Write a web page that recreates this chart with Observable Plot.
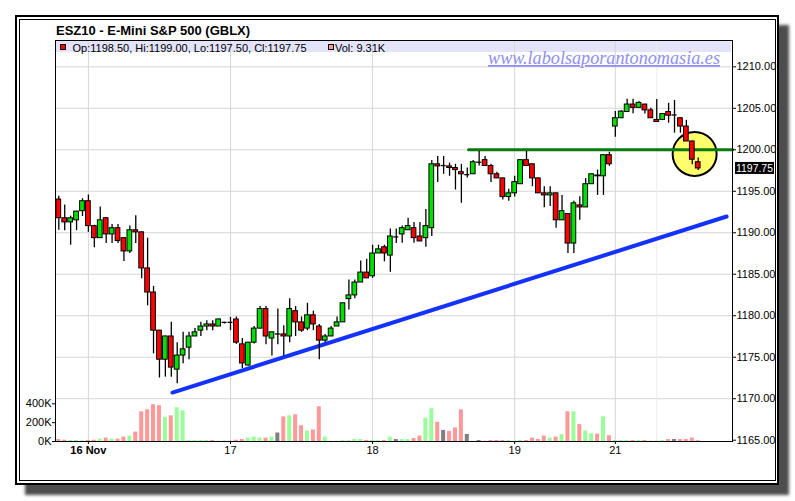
<!DOCTYPE html>
<html><head><meta charset="utf-8">
<script src="https://cdn.jsdelivr.net/npm/d3@7"></script>
<script src="https://cdn.jsdelivr.net/npm/@observablehq/plot@0.6"></script>
<style>
body{margin:0;background:#fff;}
#wrap{position:relative;width:795px;height:501px;overflow:hidden;font-family:"Liberation Sans",Arial,sans-serif;}
#outer{position:absolute;left:15px;top:15px;width:760px;height:466px;border:2px solid #000;box-shadow:10px 10px 3px #4d4d4d;background:#fff;}
#inner{position:absolute;left:19px;top:19px;width:755px;height:460px;border:1px solid #000;}
#band{position:absolute;left:56px;top:41px;width:675px;height:11px;background:#e3e3fa;}
#wrap svg{position:absolute;left:0;top:0;}
</style></head>
<body><div id="wrap"><div id="outer"></div><div id="inner"></div><div id="band"></div></div>
<script>
// ---- data (hourly bars, index 0 = first bar) ----
const open  = [1194.0,1191.75,1191.25,1191.5,1192.6,1193.8,1190.8,1189.35,1191.75,1189.8,1190.55,1189.35,1187.75,1190.3,1190.05,1185.7,1182.8,1178.2,1174.7,1177.5,1173.5,1175.2,1176.15,1177.5,1178.2,1178.7,1178.95,1178.7,1179.2,1179.2,
1179.55,1176.55,1174.0,1176.75,1178.45,1180.8,1177.25,1177.8,1177.75,1177.5,1180.55,1179.2,1178.45,1180.05,1178.7,1177.0,1177.5,1178.7,1179.2,1182.0,1182.45,1184.0,1185.2,1184.75,1187.5,1188.25,1187.25,1189.5,1189.8,1190.3,
1190.55,1189.55,1189.35,1190.55,1198.25,1198.1,1198.0,1197.8,1197.3,1197.0,1197.05,1198.5,1198.75,1198.05,1197.05,1196.55,1194.3,1194.75,1195.85,1198.75,1198.25,1196.55,1194.75,1194.5,1194.75,1191.5,1192.25,1188.7,1193.3,1193.05,
1195.85,1196.9,1196.8,1199.35,1202.8,1203.8,1204.55,1205.45,1205.05,1205.45,1204.75,1203.6,1203.6,1204.55,1204.2,1203.8,1202.8,1201.0,1198.5];
const high  = [1194.4,1193.35,1192.0,1192.6,1194.1,1194.55,1190.9,1193.1,1191.8,1191.0,1191.0,1189.4,1190.8,1192.05,1190.1,1189.35,1183.55,1178.25,1177.55,1179.2,1176.75,1178.0,1178.0,1178.45,1179.2,1179.4,1179.4,1179.6,1179.2,1179.8,
1179.85,1177.25,1176.8,1178.7,1181.1,1181.1,1178.0,1180.8,1178.8,1182.05,1181.1,1179.85,1181.5,1180.55,1178.95,1177.75,1178.7,1179.85,1181.5,1184.3,1184.3,1186.6,1186.8,1188.5,1188.5,1188.5,1190.45,1190.45,1190.8,1191.75,
1191.25,1191.25,1192.8,1198.7,1199.2,1199.2,1198.4,1198.25,1198.25,1197.8,1198.7,1199.8,1199.2,1198.25,1197.3,1196.6,1195.25,1196.8,1198.75,1199.8,1198.3,1196.6,1195.55,1195.55,1194.8,1194.5,1192.3,1193.8,1194.35,1196.55,
1197.05,1197.55,1199.35,1199.7,1204.6,1204.7,1206.1,1206.1,1205.8,1205.5,1205.0,1206.05,1204.3,1205.6,1205.95,1203.85,1203.55,1201.05,1199.0];
const low   = [1190.3,1190.25,1188.5,1190.25,1191.95,1190.05,1188.2,1189.3,1188.7,1188.7,1188.7,1186.55,1187.5,1188.7,1184.45,1181.2,1175.4,1172.5,1172.6,1172.6,1171.8,1174.2,1174.7,1177.5,1177.5,1178.2,1178.2,1178.7,1179.0,1178.2,
1176.55,1173.65,1173.9,1176.6,1178.4,1176.5,1175.15,1176.5,1175.15,1176.75,1177.5,1178.0,1178.2,1178.2,1174.7,1176.75,1177.5,1178.7,1179.2,1180.7,1182.05,1184.0,1184.5,1184.5,1187.5,1186.5,1185.25,1188.7,1188.75,1190.3,
1188.75,1188.95,1188.25,1189.55,1196.05,1197.05,1196.8,1195.15,1193.55,1196.6,1197.05,1198.05,1198.0,1196.05,1196.55,1193.95,1193.8,1194.3,1195.85,1198.0,1195.55,1194.75,1193.0,1193.15,1190.55,1191.5,1187.5,1187.5,1191.5,1193.05,
1195.85,1194.5,1194.5,1198.0,1201.5,1203.8,1204.55,1204.35,1205.05,1204.3,1203.8,1203.3,1203.6,1203.2,1202.0,1202.0,1201.0,1198.2,1197.5];
const close = [1191.75,1191.25,1191.75,1192.55,1193.8,1190.8,1189.35,1191.5,1189.8,1190.55,1189.0,1187.75,1190.3,1190.05,1185.7,1182.8,1178.2,1174.7,1177.5,1173.75,1175.2,1175.95,1177.5,1178.0,1178.7,1178.95,1178.7,1179.55,1179.2,1179.2,
1176.75,1174.25,1176.75,1178.45,1180.8,1177.5,1178.0,1177.8,1177.5,1180.8,1179.2,1178.2,1180.05,1178.95,1177.0,1177.5,1178.45,1179.2,1181.5,1182.45,1184.0,1185.2,1184.5,1187.5,1188.0,1187.5,1189.55,1189.5,1190.55,1190.8,
1189.35,1188.95,1190.8,1198.25,1198.0,1198.1,1197.8,1197.55,1197.05,1197.0,1198.5,1198.5,1198.05,1197.05,1196.55,1194.3,1194.75,1196.1,1198.75,1198.05,1196.55,1194.75,1194.5,1194.75,1191.5,1192.6,1188.7,1193.55,1193.05,1195.85,
1197.05,1196.8,1199.35,1198.25,1203.8,1204.6,1205.45,1205.05,1205.65,1204.75,1203.8,1203.35,1204.3,1204.1,1204.2,1202.8,1201.0,1198.8,1197.75];
// volume in thousands of contracts
const volume = [21,14,11,11,7,11,14,25,36,25,25,47,57,100,315,336,390,380,254,272,358,326,11,11,11,11,11,3,2,2,
14,21,36,47,36,36,47,90,261,272,283,168,111,122,369,47,3,3,11,11,21,21,11,11,11,11,47,21,21,21,
32,57,247,347,204,118,107,143,336,75,3,11,3,11,11,11,11,3,11,11,36,21,57,36,47,72,315,315,179,111,
82,79,261,61,11,11,11,11,11,11,3,3,11,21,21,21,21,36,9.31];

const dayTicks = [5, 29, 53, 77, 94];
const dayLabels = ["16 Nov", "17", "18", "19", "21"];
const minorDayTicks = [101];
const priceTicks = [1165,1170,1175,1180,1185,1190,1195,1200,1205,1210];
const priceGrid = [1170,1175,1180,1185,1190,1195,1200,1205,1210];
const volTicks = [0, 200, 400];
// annotations (bar index, price)
const resistance = [{i: 69.2, p: 1200}, {i: 113.8, p: 1200}];
const trend = [{i: 19.2, p: 1170.74}, {i: 112.8, p: 1191.96}];
const highlight = [{i: 107.4, p: 1199.5}];

const bars = open.map((o, i) => ({i, o, h: high[i], l: low[i], c: close[i], v: volume[i]}));
const bodies = bars.filter(d => d.c !== d.o);
const dojis = bars.filter(d => d.c === d.o);
const UP = "#00e000", DOWN = "#ff0000";
const volColor = d => d.c > d.o ? "#99ff99" : d.c < d.o ? "#ff9999" : "#808080";

const W = 795, H = 501, ML = 55, MR = 63, MT = 40, MB = 60;
const xDom = [0, 108], xRange = [58.3, 697.7];
const font = "Liberation Sans, Arial, sans-serif";
const wrap = document.getElementById("wrap");

const pricePlot = Plot.plot({
  width: W, height: H, marginLeft: ML, marginRight: MR, marginTop: MT, marginBottom: MB,
  style: {background: "transparent", fontFamily: font, fontSize: "11px", color: "#000"},
  x: {type: "linear", domain: xDom, range: xRange, axis: null},
  y: {domain: [1165, 1210], range: [439.7, 66.3], axis: null},
  marks: [
    Plot.gridY(priceGrid, {stroke: "#d6d6d6", strokeOpacity: 1}),
    Plot.gridX(dayTicks, {stroke: "#d6d6d6", strokeOpacity: 1}),
    Plot.gridX(minorDayTicks, {stroke: "#ececec", strokeOpacity: 1}),
    Plot.dot(highlight, {x: "i", y: "p", r: 22, fill: "#ffff6e", stroke: "black", strokeWidth: 2}),
    Plot.line(trend, {x: "i", y: "p", stroke: "#1432ff", strokeWidth: 4}),
    Plot.line(resistance, {x: "i", y: "p", stroke: "#0a7a0a", strokeWidth: 3}),
    Plot.ruleX(bars, {x: "i", y1: "l", y2: "h", stroke: "black", strokeWidth: 1.3}),
    Plot.rect(bodies, {x1: d => d.i - 0.4, x2: d => d.i + 0.4, y1: "o", y2: "c",
      fill: d => d.c > d.o ? UP : DOWN, stroke: "black", strokeWidth: 1}),
    Plot.ruleY(dojis, {y: "o", x1: d => d.i - 0.42, x2: d => d.i + 0.42, stroke: "black", strokeWidth: 1.3}),
    Plot.axisY({anchor: "right", label: null, ticks: priceTicks, tickFormat: d => d.toFixed(2), tickSize: 3, tickPadding: 1}),
    Plot.axisX({anchor: "bottom", label: null, ticks: dayTicks.slice(1), tickFormat: d => dayLabels[dayTicks.indexOf(d)], tickSize: 3, tickPadding: 2}),
    Plot.axisX({anchor: "bottom", label: null, ticks: dayTicks.slice(0, 1), tickFormat: d => dayLabels[dayTicks.indexOf(d)], tickSize: 3, tickPadding: 2, fontWeight: "bold"})
  ]
});
wrap.appendChild(pricePlot);

const volPlot = Plot.plot({
  width: W, height: H, marginLeft: ML, marginRight: MR, marginTop: MT, marginBottom: MB,
  style: {background: "transparent", fontFamily: font, fontSize: "11px", color: "#000"},
  x: {type: "linear", domain: xDom, range: xRange, axis: null},
  y: {domain: [0, 400], range: [441, 403.3], axis: null},
  marks: [
    Plot.rect(bars, {x1: d => d.i - 0.34, x2: d => d.i + 0.34, y1: 0, y2: "v", fill: volColor}),
    Plot.axisY({anchor: "left", label: null, ticks: volTicks, tickFormat: d => d + "K", tickSize: 3, tickPadding: 1}),
    Plot.frame({stroke: "black", strokeWidth: 1})
  ]
});
wrap.appendChild(volPlot);

// last-price tag on the price axis, placed with the plot's own y scale
const ys = pricePlot.scale("y");
const yMap = d3.scaleLinear().domain(ys.domain).range(ys.range);
const last = bars[bars.length - 1];
const ovl = d3.select(wrap).append("svg").attr("width", W).attr("height", H)
  .style("font-family", font);
const yl = yMap(last.c);
ovl.append("rect").attr("x", W - MR + 3).attr("y", yl - 6).attr("width", 39).attr("height", 12).attr("fill", "black");
ovl.append("text").attr("x", W - MR + 4).attr("y", yl + 4).attr("font-size", 11).attr("fill", "white")
  .attr("textLength", 37).attr("lengthAdjust", "spacingAndGlyphs").text(last.c.toFixed(2));

// header texts
ovl.append("text").attr("x", 56).attr("y", 35).attr("font-size", 13).attr("font-weight", "bold").text("ESZ10 - E-Mini S&P 500 (GBLX)");
ovl.append("rect").attr("x", 60.5).attr("y", 44.5).attr("width", 5).attr("height", 5).attr("fill", "#ff0000").attr("stroke", "black");
ovl.append("text").attr("x", 72.5).attr("y", 51.5).attr("font-size", 11)
  .text(`Op:${last.o.toFixed(2)}, Hi:${last.h.toFixed(2)}, Lo:${last.l.toFixed(2)}, Cl:${last.c.toFixed(2)}`);
ovl.append("rect").attr("x", 328.5).attr("y", 44.5).attr("width", 5).attr("height", 5).attr("fill", "#ff9999").attr("stroke", "black");
ovl.append("text").attr("x", 335).attr("y", 51.5).attr("font-size", 11).text(`Vol: ${last.v.toFixed(2)}K`);
ovl.append("text").attr("x", 488).attr("y", 64).attr("font-size", 18).attr("font-style", "italic")
  .attr("font-family", "Liberation Serif, Times New Roman, serif").attr("fill", "#8f8ff0")
  .attr("textLength", 232).attr("lengthAdjust", "spacingAndGlyphs")
  .style("text-decoration", "underline").text("www.labolsaporantonomasia.es");
</script></body></html>
